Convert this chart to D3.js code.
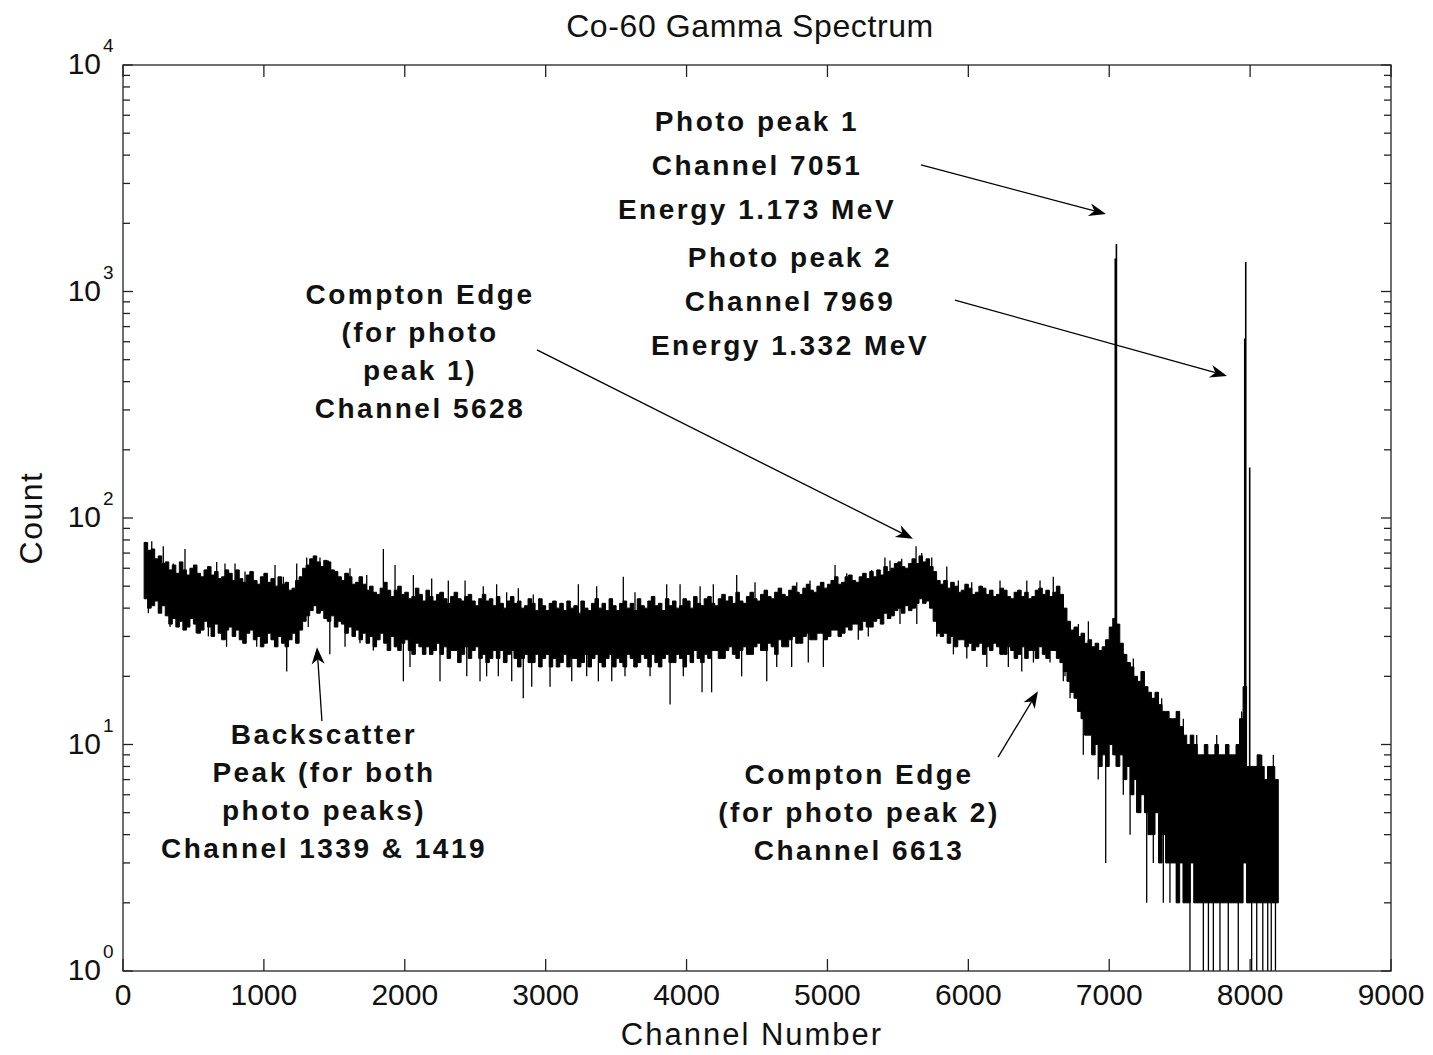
<!DOCTYPE html>
<html>
<head>
<meta charset="utf-8">
<title>Co-60 Gamma Spectrum</title>
<script src="https://cdn.jsdelivr.net/npm/d3@7"></script>
<style>
  body { margin: 0; background: #fff; }
  svg { display: block; }
  text { font-family: "Liberation Sans", Arial, Helvetica, sans-serif; fill: #111; }
</style>
</head>
<body>
<svg id="chart" width="1433" height="1055"></svg>
<script>
// ---- Spectrum data (counts per channel, log scale) ----
// Continuum band: per 25-channel bin starting at channel 150, the highest and
// lowest count seen inside that bin.
const bandStart = 150;
const bandStep = 25;
const bandHigh = [
  78, 72, 73, 66, 68, 63, 64, 59, 62, 57, 64, 59, 56, 60, 62, 57, 55, 59, 61, 56,
  58, 54, 55, 59, 57, 53, 59, 54, 52, 56, 58, 53, 51, 55, 57, 52, 54, 50, 55, 51,
  52, 48, 49, 53, 55, 60, 62, 66, 68, 64, 61, 65, 64, 59, 58, 55, 53, 57, 55, 51,
  52, 55, 51, 48, 50, 47, 46, 49, 52, 48, 45, 48, 50, 46, 47, 44, 45, 49, 46, 43,
  48, 45, 43, 46, 47, 44, 42, 45, 47, 44, 43, 45, 46, 43, 41, 44, 46, 43, 44, 41,
  45, 42, 40, 43, 45, 42, 43, 40, 41, 44, 42, 39, 44, 41, 39, 42, 43, 40, 42, 39,
  43, 40, 41, 38, 43, 40, 39, 42, 44, 40, 42, 39, 44, 41, 39, 42, 43, 40, 42, 39,
  44, 41, 40, 43, 45, 41, 42, 39, 44, 41, 43, 40, 41, 44, 43, 40, 45, 42, 41, 44,
  45, 42, 41, 44, 46, 43, 45, 42, 47, 43, 42, 45, 47, 44, 43, 46, 48, 45, 44, 47,
  49, 46, 45, 48, 50, 47, 46, 49, 51, 48, 47, 50, 52, 49, 51, 53, 55, 51, 52, 55,
  56, 53, 52, 55, 57, 54, 58, 55, 59, 56, 61, 58, 60, 63, 64, 61, 60, 63, 66, 63,
  68, 64, 66, 61, 58, 53, 51, 53, 49, 52, 50, 47, 48, 51, 49, 46, 47, 50, 49, 46,
  48, 45, 46, 49, 48, 45, 44, 47, 48, 45, 47, 44, 45, 48, 49, 46, 48, 45, 47, 50,
  46, 40, 35, 32, 33, 30, 31, 28, 29, 27, 28, 26, 27, 29, 33, 36, 34, 28, 25, 23,
  22, 20, 19, 21, 18, 17, 16, 17, 15, 14, 14, 13, 13, 14, 12, 11, 10, 11, 10, 9,
  9, 10, 9, 9, 10, 9, 9, 10, 9, 9, 10, 13, 18, 8, 8, 8, 9, 8, 7, 8,
  8, 7
];
const bandLow = [
  44, 40, 41, 43, 38, 41, 37, 34, 36, 33, 35, 32, 33, 36, 34, 31, 32, 35, 33, 30,
  34, 31, 29, 32, 33, 30, 32, 29, 28, 31, 32, 29, 30, 27, 28, 31, 29, 27, 30, 28,
  27, 29, 31, 28, 32, 35, 37, 39, 41, 38, 39, 36, 35, 37, 33, 35, 34, 31, 33, 30,
  32, 29, 31, 28, 30, 27, 29, 31, 28, 26, 30, 27, 26, 28, 29, 26, 25, 28, 27, 25,
  27, 25, 26, 28, 25, 27, 24, 26, 26, 23, 25, 27, 24, 26, 27, 24, 25, 23, 24, 26,
  24, 26, 23, 25, 26, 24, 22, 24, 25, 23, 23, 25, 22, 24, 25, 22, 24, 22, 23, 25,
  22, 24, 24, 22, 23, 25, 22, 24, 25, 23, 22, 24, 25, 22, 24, 23, 22, 25, 24, 22,
  23, 25, 24, 22, 25, 23, 22, 24, 25, 23, 23, 25, 24, 22, 25, 23, 26, 24, 23, 25,
  24, 26, 26, 24, 24, 26, 27, 25, 24, 26, 27, 25, 25, 27, 28, 26, 26, 28, 27, 25,
  29, 27, 27, 29, 30, 28, 28, 30, 31, 29, 29, 31, 31, 29, 30, 32, 32, 30, 31, 33,
  32, 34, 34, 32, 35, 33, 33, 35, 36, 34, 38, 36, 37, 39, 40, 38, 41, 39, 40, 42,
  44, 42, 43, 40, 35, 31, 30, 31, 28, 30, 27, 29, 29, 27, 28, 26, 27, 28, 25, 27,
  26, 28, 27, 25, 25, 27, 26, 24, 25, 27, 24, 26, 26, 24, 27, 25, 24, 26, 26, 24,
  23, 21, 19, 17, 16, 14, 13, 11, 11, 9, 10, 8, 9, 8, 10, 9, 8, 9, 7, 8,
  6, 7, 5, 6, 5, 4, 4, 5, 3, 4, 3, 3, 3, 2, 3, 2, 2, 3, 2, 2,
  2, 2, 2, 2, 2, 2, 2, 2, 2, 2, 2, 2, 3, 2, 2, 2, 2, 2, 2, 2,
  2, 2
];

// Single channels that stick out of the band (up or down).
const spikeChannels = [
  180, 204, 286, 334, 357, 440, 511, 520, 606, 665, 724, 735, 795, 854, 866,
  949, 1079, 1091, 1138, 1162, 1233, 1304, 1315, 1398, 1457, 1468, 1576, 1611,
  1682, 1730, 1777, 1848, 1931, 1990, 2037, 2061, 2191, 2250, 2309, 2428, 2440,
  2534, 2557, 2581, 2652, 2664, 2723, 2759, 2806, 2841, 2901, 2912, 3031, 3185,
  3232, 3291, 3362, 3374, 3469, 3551, 3563, 3634, 3741, 3859, 3883, 3954, 3977,
  4096, 4110, 4178, 4190, 4356, 4391, 4486, 4569, 4640, 4746, 4782, 4864, 4876,
  4959, 4971, 5054, 5137, 5219, 5290, 5314, 5408, 5444, 5515, 5527, 5629, 5634,
  5669, 5740, 5776, 5847, 5894, 5929, 5989, 6024, 6131, 6225, 6284, 6379, 6415,
  6462, 6509, 6580, 6603, 6674, 6686, 6722, 6781, 6816, 6852, 6922, 6975, 7089,
  7100, 7148, 7171, 7195, 7266, 7313, 7372, 7384, 7431, 7479, 7526, 7573, 7621,
  7668, 7704, 7739, 7763, 7786, 7845, 7916, 7940, 8011, 8047, 8082, 8090, 8125,
  8150, 8165, 8180
];
const spikeCounts = [
  38, 79, 75, 33, 63, 73, 61, 31, 30, 64, 63, 27, 63, 28, 58,
  27, 62, 27, 55, 21, 63, 67, 33, 67, 65, 25, 27, 60,
  28, 56, 26, 73, 62, 19, 22, 56, 54, 19, 53, 53, 20,
  19, 50, 20, 51, 20, 47, 19, 49, 16, 18, 46, 18, 19,
  51, 20, 50, 19, 19, 55, 20, 47, 20, 51, 15, 51, 20,
  50, 17, 17, 51, 56, 20, 52, 19, 22, 22, 52, 23, 53,
  52, 22, 62, 57, 29, 30, 59, 67, 65, 34, 66, 75, 34,
  70, 67, 30, 61, 25, 53, 24, 52, 22, 53, 22, 21, 53,
  23, 53, 23, 55, 19, 20, 16, 34, 9, 35, 7, 3, 27,
  6, 4, 24, 5, 2, 3, 16, 2, 2, 2, 13, 1, 11,
  1, 1, 1, 11, 1, 1, 1, 14, 1, 1, 9, 1, 1,
  1, 9, 1
];

// Full-energy peaks (two adjacent channels each, plus the upper-side flank of peak 2).
const peakChannels = [7043, 7051, 7962, 7969, 7997];
const peakCounts = [1400, 1620, 620, 1350, 167];

// Axis ticks
const xTickValues = [0, 1000, 2000, 3000, 4000, 5000, 6000, 7000, 8000, 9000];
const yDecades = [1, 10, 100, 1000, 10000];
const yDecadeExponents = ["0", "1", "2", "3", "4"];

// Annotation text
const photoPeak1Text = ["Photo peak 1", "Channel 7051", "Energy 1.173 MeV"];
const photoPeak2Text = ["Photo peak 2", "Channel 7969", "Energy 1.332 MeV"];
const compton1Text = ["Compton Edge", "(for photo", "peak 1)", "Channel 5628"];
const backscatterText = ["Backscatter", "Peak (for both", "photo peaks)", "Channel 1339 & 1419"];
const compton2Text = ["Compton Edge", "(for photo peak 2)", "Channel 6613"];

// ---- Drawing ----
const svg = d3.select("#chart");
const plot = { left: 123, right: 1391, top: 65, bottom: 971 };

const x = d3.scaleLinear().domain([0, 9000]).range([plot.left, plot.right]);
const y = d3.scaleLog().domain([1, 10000]).range([plot.bottom, plot.top]);

svg.append("defs").append("clipPath").attr("id", "plot-clip")
  .append("rect")
  .attr("x", plot.left).attr("y", plot.top)
  .attr("width", plot.right - plot.left).attr("height", plot.bottom - plot.top);

const data = svg.append("g").attr("clip-path", "url(#plot-clip)");

// continuum band
const bins = bandHigh.map((h, i) => ({ ch: bandStart + i * bandStep, high: h, low: bandLow[i] }));
const lastBin = bins[bins.length - 1];
bins.push({ ch: lastBin.ch + bandStep, high: lastBin.high, low: lastBin.low });

data.append("path")
  .datum(bins)
  .attr("d", d3.area()
    .x(d => x(d.ch))
    .y0(d => y(d.low))
    .y1(d => y(d.high))
    .curve(d3.curveStepAfter))
  .attr("fill", "#000")
  .attr("stroke", "#000")
  .attr("stroke-width", 1);

function binAt(ch) {
  const i = Math.max(0, Math.min(bandHigh.length - 1, Math.floor((ch - bandStart) / bandStep)));
  return { high: bandHigh[i], low: bandLow[i] };
}

// isolated channels above / below the band
data.append("g").selectAll("line")
  .data(spikeChannels.map((ch, i) => ({ ch, count: spikeCounts[i] })))
  .join("line")
  .attr("x1", d => x(d.ch)).attr("x2", d => x(d.ch))
  .attr("y1", d => { const b = binAt(d.ch); return d.count > b.high ? y(b.low) : y(b.high); })
  .attr("y2", d => y(d.count))
  .attr("stroke", "#000")
  .attr("stroke-width", 1.3);

// photo peaks
data.append("g").selectAll("line")
  .data(peakChannels.map((ch, i) => ({ ch, count: peakCounts[i] })))
  .join("line")
  .attr("x1", d => x(d.ch)).attr("x2", d => x(d.ch))
  .attr("y1", d => y(binAt(d.ch).low))
  .attr("y2", d => y(d.count))
  .attr("stroke", "#000")
  .attr("stroke-width", 1.6);

// ---- Axes box and ticks (inward, on all four sides) ----
const axes = svg.append("g").attr("stroke", "#222").attr("stroke-width", 1.3);
axes.append("rect")
  .attr("x", plot.left).attr("y", plot.top)
  .attr("width", plot.right - plot.left).attr("height", plot.bottom - plot.top)
  .attr("fill", "none");

xTickValues.forEach(v => {
  axes.append("line").attr("x1", x(v)).attr("x2", x(v)).attr("y1", plot.bottom).attr("y2", plot.bottom - 12);
  axes.append("line").attr("x1", x(v)).attr("x2", x(v)).attr("y1", plot.top).attr("y2", plot.top + 12);
});

y.ticks().forEach(v => {
  const isMajor = yDecades.includes(v);
  const len = isMajor ? 10 : 7;
  axes.append("line").attr("x1", plot.left).attr("x2", plot.left + len).attr("y1", y(v)).attr("y2", y(v));
  axes.append("line").attr("x1", plot.right).attr("x2", plot.right - len).attr("y1", y(v)).attr("y2", y(v));
});

// tick labels
const labels = svg.append("g").style("font-size", "30px");
labels.selectAll("text.xt")
  .data(xTickValues)
  .join("text")
  .attr("class", "xt")
  .attr("x", d => x(d))
  .attr("y", 1005)
  .attr("text-anchor", "middle")
  .text(d => d);

yDecades.forEach((v, i) => {
  labels.append("text")
    .attr("x", 101).attr("y", y(v) + 9)
    .attr("text-anchor", "end")
    .text("10");
  labels.append("text")
    .attr("x", 103).attr("y", y(v) - 13)
    .style("font-size", "19px")
    .text(yDecadeExponents[i]);
});

// title and axis labels
svg.append("text")
  .attr("x", 750).attr("y", 37)
  .attr("text-anchor", "middle")
  .style("font-size", "32px").style("letter-spacing", "0.6px")
  .text("Co-60 Gamma Spectrum");

svg.append("text")
  .attr("x", 752).attr("y", 1045)
  .attr("text-anchor", "middle")
  .style("font-size", "31px").style("letter-spacing", "2px")
  .text("Channel Number");

svg.append("text")
  .attr("transform", "translate(42,518) rotate(-90)")
  .attr("text-anchor", "middle")
  .style("font-size", "32px").style("letter-spacing", "1.5px")
  .text("Count");

// ---- Annotations ----
const notes = svg.append("g")
  .style("font-size", "28px")
  .style("font-weight", "bold")
  .style("letter-spacing", "2.5px");

function textBlock(lines, cx, firstBaseline, lineStep) {
  notes.append("g").selectAll("text")
    .data(lines)
    .join("text")
    .attr("x", cx)
    .attr("y", (d, i) => firstBaseline + i * lineStep)
    .attr("text-anchor", "middle")
    .text(d => d);
}

textBlock(photoPeak1Text, 757, 131, 44);
textBlock(photoPeak2Text, 790, 267, 44);
textBlock(compton1Text, 420, 304, 38);
textBlock(backscatterText, 324, 744, 38);
textBlock(compton2Text, 859, 784, 38);

function arrow(from, to) {
  const x1 = x(from[0]), y1 = y(from[1]);
  const x2 = x(to[0]), y2 = y(to[1]);
  const a = Math.atan2(y2 - y1, x2 - x1);
  const c = Math.cos(a), s = Math.sin(a);
  const L = 17, W = 6.5, N = 5;
  const g = svg.append("g");
  g.append("line")
    .attr("x1", x1).attr("y1", y1)
    .attr("x2", x2 - (L - N) * c).attr("y2", y2 - (L - N) * s)
    .attr("stroke", "#000").attr("stroke-width", 1.3);
  const pts = [
    [x2, y2],
    [x2 - L * c - W * s, y2 - L * s + W * c],
    [x2 - (L - N) * c, y2 - (L - N) * s],
    [x2 - L * c + W * s, y2 - L * s - W * c]
  ];
  g.append("path").attr("d", "M" + pts.join("L") + "Z").attr("fill", "#000");
}

arrow([5664, 3619], [6977, 2198]);  // photo peak 1
arrow([5905, 917], [7836, 424]);    // photo peak 2
arrow([2938, 552], [5607, 81]);     // Compton edge, peak 1
arrow([1412, 12.7], [1377, 26.9]);  // backscatter peak
arrow([6211, 8.8], [6494, 17.2]);   // Compton edge, peak 2
</script>
</body>
</html>
